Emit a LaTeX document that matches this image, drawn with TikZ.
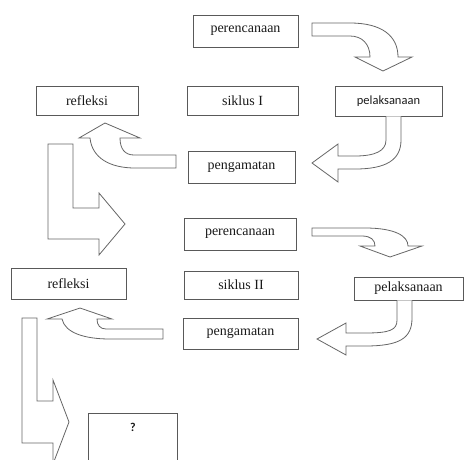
\documentclass[tikz,border=0pt]{standalone}
\usepackage{fontspec}
\setmainfont{Liberation Serif}
\newfontfamily\calib{Carlito}
\begin{document}
\begin{tikzpicture}[x=1pt,y=-1pt,
  box/.style={draw=black!65, line width=0.8pt, inner sep=0pt, text=black!90,
    font=\fontsize{14}{16}\selectfont},
  sbox/.style={box, font=\calib\fontsize{12.5}{14}\selectfont},
  blockarrow/.style={draw=black!60, line width=0.8pt, line join=miter, fill=white}]
\useasboundingbox (0,0) rectangle (465,459);
\clip (0,0) rectangle (465,459);
% cycle I boxes
\node[box, minimum width=105pt, minimum height=32pt] (p1) at (245.5,31) {perencanaan};
\node[box, minimum width=111pt, minimum height=29pt] (s1) at (242.5,100.5) {siklus I};
\node[sbox, minimum width=107pt, minimum height=30pt] (l1) at (388.5,101) {pelaksanaan};
\node[box, minimum width=102pt, minimum height=29pt] (r1) at (87,100.5) {refleksi};
\node[box, minimum width=107pt, minimum height=32pt] (g1) at (241.5,167) {pengamatan};
% cycle II boxes
\node[box, minimum width=112pt, minimum height=32pt] (p2) at (240,234) {perencanaan};
\node[box, minimum width=114pt, minimum height=28pt] (s2) at (241,285) {siklus II};
\node[box, minimum width=109pt, minimum height=23pt] (l2) at (408.5,288.5) {pelaksanaan};
\node[box, minimum width=115pt, minimum height=31pt] (g2) at (240.5,333.5) {pengamatan};
\node[box, minimum width=115pt, minimum height=31pt] (r2) at (68.5,283.5) {refleksi};
% open box with question mark
\draw[draw=black!65, line width=0.8pt] (88,413) rectangle (177,475);
\node[font=\calib\bfseries\fontsize{12}{14}\selectfont, text=black!90] (q) at (133,427) {?};
% arrow perencanaan I -> pelaksanaan I
\draw[blockarrow] (312,23) -- (350,23) .. controls (382,23) and (398,36) .. (398,57)
  -- (412,57) -- (383,71) -- (355,57) -- (370,57)
  .. controls (370,44) and (362,36) .. (350,36) -- (312,36) -- cycle;
% arrow pelaksanaan I -> pengamatan I
\draw[blockarrow] (386,116.4) -- (386,140) .. controls (386,151) and (375,156) .. (355,156)
  -- (338,156) -- (338,144) -- (312,163) -- (338,182) -- (338,169) -- (355,169)
  .. controls (386,169) and (401,160) .. (401,140) -- (401,116.4);
% arrow pengamatan I -> refleksi I
\draw[blockarrow] (176,155) -- (134,155) .. controls (125,155) and (120,149) .. (120,138)
  -- (140,138) -- (105,123) -- (79,138) -- (90,138)
  .. controls (92,158) and (110,168) .. (135,168) -- (176,168) -- cycle;
% L arrow refleksi I -> perencanaan II
\draw[blockarrow] (48,144) -- (73,144) -- (73,208) -- (99,208) -- (99,193) -- (125,224)
  -- (99,255) -- (99,239) -- (48,239) -- cycle;
% arrow perencanaan II -> pelaksanaan II
\draw[blockarrow] (312,228) -- (365,228) .. controls (395,228) and (408,236) .. (408,246)
  -- (422,246) -- (390,257) -- (360,246) -- (375,246)
  .. controls (375,240) and (371,236) .. (362,236) -- (312,236) -- cycle;
% arrow pelaksanaan II -> pengamatan II
\draw[blockarrow] (397,300.4) -- (397,320) .. controls (397,330) and (390,333) .. (365,333)
  -- (346,333) -- (346,323) -- (317,339) -- (346,355) -- (346,346) -- (365,346)
  .. controls (400,346) and (412,338) .. (412,318) -- (412,300.4);
% arrow pengamatan II -> refleksi II
\draw[blockarrow] (163,329) -- (106,329) .. controls (100,329) and (97,325) .. (97,319)
  -- (112,319) -- (80,308) -- (47,319) -- (62,319)
  .. controls (65,333) and (85,339) .. (110,339) -- (163,339) -- cycle;
% L arrow refleksi II -> ?
\draw[blockarrow] (22,318) -- (37,318) -- (37,401) -- (53,401) -- (53,380) -- (69,422)
  -- (53,464) -- (53,443) -- (22,443) -- cycle;
\end{tikzpicture}
\end{document}
